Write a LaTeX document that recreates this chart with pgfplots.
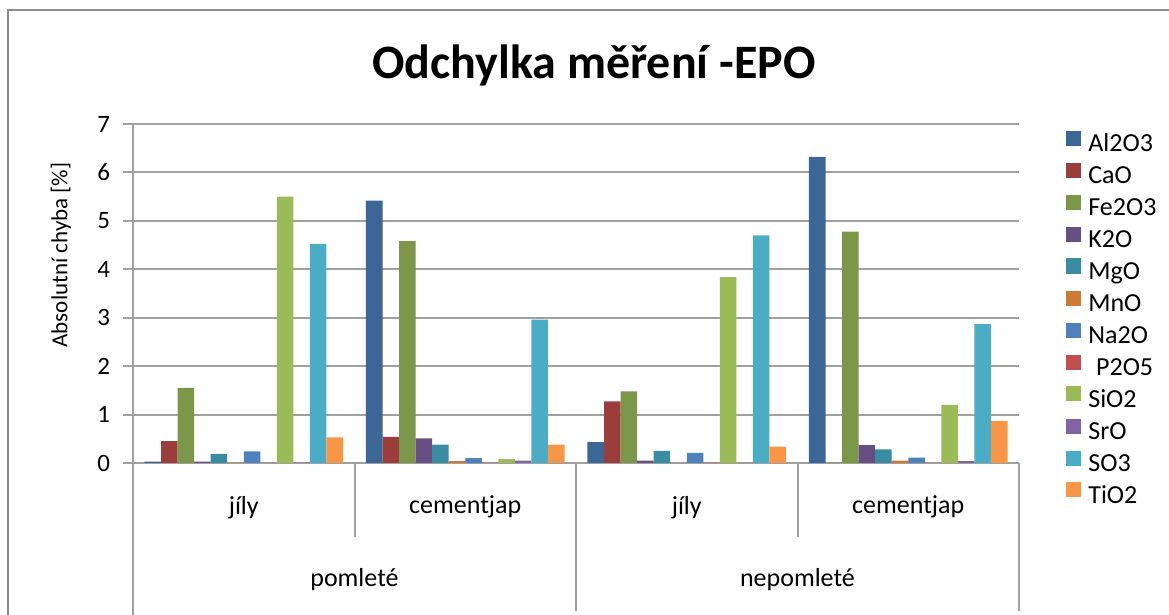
\documentclass[border=0pt]{standalone}
\usepackage{fontspec}
\setmainfont{Carlito}
\usepackage{pgfplots}
\usepackage{pgfplotstable}
\pgfplotsset{compat=1.18}
\definecolor{cAl}{HTML}{3C6696}
\definecolor{cCa}{HTML}{9B3E3B}
\definecolor{cFe}{HTML}{7D974A}
\definecolor{cK}{HTML}{674F84}
\definecolor{cMg}{HTML}{398CA2}
\definecolor{cMn}{HTML}{CC7A36}
\definecolor{cNa}{HTML}{4F81BD}
\definecolor{cP}{HTML}{C0504D}
\definecolor{cSi}{HTML}{9BBB59}
\definecolor{cSr}{HTML}{8064A2}
\definecolor{cS}{HTML}{4BACC6}
\definecolor{cTi}{HTML}{F79646}
\definecolor{gridg}{HTML}{A0A0A0}
\definecolor{frameg}{HTML}{8C8C8C}

\pgfplotstableread{
g Al Ca Fe K Mg Mn Na P Si Sr S Ti
0 0.03 0.45 1.55 0.03 0.19 0.01 0.24 0.00 5.50 0.01 4.52 0.53
1 5.42 0.54 4.58 0.51 0.38 0.04 0.10 0.01 0.08 0.05 2.96 0.38
2 0.43 1.27 1.48 0.05 0.25 0.00 0.21 0.01 3.84 0.00 4.70 0.34
3 6.32 0.00 4.78 0.37 0.28 0.05 0.11 0.00 1.20 0.04 2.87 0.87
}\data

\begin{document}
\begin{tikzpicture}
\useasboundingbox (0,0) rectangle (584.5pt,307.5pt);
% chart frame
\draw[frameg, line width=1pt] (4pt,0pt) -- (4pt,302.5pt) -- (584.5pt,302.5pt);
% title
\node[font=\fontsize{24}{29}\selectfont\bfseries] at (297pt,275pt) {Odchylka měření -EPO};
% y label
\node[rotate=90, font=\fontsize{11.5}{13}\selectfont] at (30.5pt,180pt) {Absolutní chyba [\%]};
\begin{axis}[
  at={(66.5pt,76pt)}, anchor=south west,
  scale only axis, width=443pt, height=169.5pt,
  ybar=0pt, bar width=0.0747,
  xmin=-0.5, xmax=3.5, ymin=0, ymax=7,
  ytick={0,1,2,3,4,5,6,7},
  xtick={0,1,2,3},
  xticklabels={jíly,cementjap,jíly,cementjap},
  xtick style={draw=none},
  axis lines*=left,
  axis line style={draw=gridg, line width=1pt, -},
  tick align=outside,
  major tick length=5pt,
  ytick style={draw=gridg, line width=1pt},
  ymajorgrids,
  grid style={draw=gridg, line width=1pt},
  clip=false,
  /pgf/number format/assume math mode=true,
  ticklabel style={font=\fontsize{12.5}{14}\selectfont},
  yticklabel style={xshift=-3pt},
  xticklabel style={yshift=-8pt, font=\fontsize{13}{15}\selectfont},
  legend style={at={(1.053,0.982)}, anchor=north west, draw=none, fill=none,
    inner sep=0pt, font=\fontsize{13}{15}\selectfont,
    nodes={inner sep=0pt, text height=8.5pt, text depth=2.5pt},
    /tikz/row sep=3pt, /tikz/column sep=3.5pt},
  legend cell align=left,
  legend image code/.code={\fill[#1] (0pt,0pt) rectangle (7.5pt,7.5pt);},
  every axis plot/.append style={draw=none},
]
\addplot[fill=cAl] table[x=g,y=Al]{\data};
\addplot[fill=cCa] table[x=g,y=Ca]{\data};
\addplot[fill=cFe] table[x=g,y=Fe]{\data};
\addplot[fill=cK] table[x=g,y=K]{\data};
\addplot[fill=cMg] table[x=g,y=Mg]{\data};
\addplot[fill=cMn] table[x=g,y=Mn]{\data};
\addplot[fill=cNa] table[x=g,y=Na]{\data};
\addplot[fill=cP] table[x=g,y=P]{\data};
\addplot[fill=cSi] table[x=g,y=Si]{\data};
\addplot[fill=cSr] table[x=g,y=Sr]{\data};
\addplot[fill=cS] table[x=g,y=S]{\data};
\addplot[fill=cTi] table[x=g,y=Ti]{\data};
\legend{Al2O3,CaO,Fe2O3,K2O,MgO,MnO,Na2O,\hspace{0.3em}P2O5,SiO2,SrO,SO3,TiO2}
% category separators
\draw[gridg, line width=1pt] (axis cs:-0.5,0) -- ([yshift=-76pt]axis cs:-0.5,0);
\draw[gridg, line width=1pt] (axis cs:0.5,0) -- ([yshift=-37pt]axis cs:0.5,0);
\draw[gridg, line width=1pt] (axis cs:1.5,0) -- ([yshift=-74pt]axis cs:1.5,0);
\draw[gridg, line width=1pt] (axis cs:2.5,0) -- ([yshift=-37pt]axis cs:2.5,0);
\draw[gridg, line width=1pt] (axis cs:3.5,0) -- ([yshift=-74pt]axis cs:3.5,0);
% second level labels
\node[font=\fontsize{13}{15}\selectfont] at ([yshift=-58.5pt]axis cs:0.5,0) {pomleté};
\node[font=\fontsize{13}{15}\selectfont] at ([yshift=-58.5pt]axis cs:2.5,0) {nepomleté};
\end{axis}
\end{tikzpicture}
\end{document}
